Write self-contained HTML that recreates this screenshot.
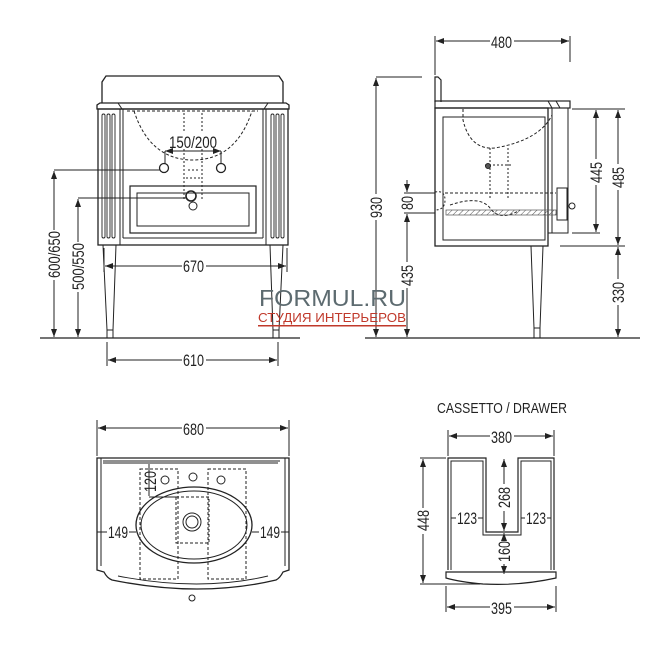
<!DOCTYPE html>
<html><head><meta charset="utf-8"><style>
html,body{margin:0;padding:0;background:#fff;}
svg{display:block}
text{font-family:"Liberation Sans",sans-serif;fill:#222;font-size:17px;}
</style></head><body>
<svg width="670" height="661" viewBox="0 0 670 661" xmlns="http://www.w3.org/2000/svg">
<defs>
<marker id="a" markerWidth="8" markerHeight="6" refX="8" refY="3" orient="auto-start-reverse" markerUnits="userSpaceOnUse"><path d="M0,0 L8,3 L0,6 z" fill="#222"/></marker>
<pattern id="h" width="4" height="4" patternUnits="userSpaceOnUse" patternTransform="rotate(45)"><line x1="0" y1="0" x2="0" y2="4" stroke="#555" stroke-width="1"/></pattern>
</defs>
<g stroke="#222" fill="none" stroke-width="1">
<path d="M102,103 V82 L106,76 H279 L283,82 V103" stroke-width="1.3"/>
<path d="M97,109 V105 L100,103 H286 L289,105 V109 Z" stroke-width="1.3"/>
<line x1="118" y1="103" x2="122" y2="109"/><line x1="268" y1="103" x2="264" y2="109"/>
<rect x="98" y="109" width="190" height="136" stroke-width="1.3"/>
<line x1="120" y1="109" x2="120" y2="245"/><line x1="123" y1="109" x2="123" y2="238"/>
<line x1="266" y1="109" x2="266" y2="245"/><line x1="263" y1="109" x2="263" y2="238"/>
<line x1="123" y1="238" x2="263" y2="238"/>
<g stroke-width="0.9">
<rect x="102" y="114" width="3" height="124" rx="1.5"/><rect x="107" y="114" width="3" height="124" rx="1.5"/><rect x="112" y="114" width="3" height="124" rx="1.5"/>
<rect x="271" y="114" width="3" height="124" rx="1.5"/><rect x="276" y="114" width="3" height="124" rx="1.5"/><rect x="281" y="114" width="3" height="124" rx="1.5"/>
</g>
<rect x="130" y="186" width="126" height="47" stroke-width="1.2"/>
<rect x="137" y="193" width="112" height="33"/>
<path d="M127,111 H258" stroke-dasharray="3,2"/>
<path d="M134,111 Q150,160 193,160 Q236,160 252,111" stroke-dasharray="3,2"/>
<path d="M184,113 V200 M202,113 V200 M188,170 H198 M186,178 H200" stroke-dasharray="2,2"/>
<circle cx="191" cy="196" r="5" stroke-width="1.6"/><circle cx="193" cy="206" r="4"/>
<circle cx="164" cy="168" r="4.5" stroke-width="1.3"/><circle cx="221" cy="168" r="4.5" stroke-width="1.3"/>
<line x1="165" y1="151" x2="221" y2="151" marker-start="url(#a)" marker-end="url(#a)"/>
<line x1="165" y1="151" x2="165" y2="164"/><line x1="221" y1="151" x2="221" y2="164"/>
<path d="M103,245 L107,330 V338 M116,245 L113,330 V338 M107,330 H113"/>
<path d="M270,245 L273,330 V338 M283,245 L279,330 V338 M273,330 H279"/>
<line x1="40" y1="338" x2="300" y2="338" stroke-width="1.2"/>
<line x1="104" y1="248" x2="104" y2="272"/><line x1="287" y1="248" x2="287" y2="272"/>
<line x1="105" y1="266" x2="286" y2="266" marker-start="url(#a)" marker-end="url(#a)"/>
<line x1="107" y1="342" x2="107" y2="366"/><line x1="278" y1="342" x2="278" y2="366"/>
<line x1="108" y1="360" x2="277" y2="360" marker-start="url(#a)" marker-end="url(#a)"/>
<line x1="54" y1="170" x2="160" y2="170"/>
<line x1="54" y1="171" x2="54" y2="337" marker-start="url(#a)" marker-end="url(#a)"/>
<line x1="78" y1="198" x2="187" y2="198"/>
<line x1="78" y1="199" x2="78" y2="337" marker-start="url(#a)" marker-end="url(#a)"/>

<line x1="435" y1="36" x2="435" y2="75"/><line x1="570" y1="36" x2="570" y2="62"/>
<line x1="436" y1="41" x2="569" y2="41" marker-start="url(#a)" marker-end="url(#a)"/>
<path d="M435,102 V77 H438 L441,80 V102" stroke-width="1.2"/>
<rect x="435" y="101" width="135" height="7" stroke-width="1.2"/>
<line x1="548" y1="101" x2="552" y2="108"/><line x1="556" y1="101" x2="560" y2="108"/>
<rect x="435" y="108" width="113" height="138" stroke-width="1.3"/>
<rect x="443" y="117" width="102" height="123"/>
<rect x="548" y="108" width="20" height="125"/>
<line x1="552" y1="108" x2="552" y2="233"/>
<rect x="557" y="188" width="10" height="32"/>
<circle cx="572" cy="206" r="3"/>
<path d="M463,109 V120 Q470,150 495,148 Q540,140 552,115 V109" stroke-dasharray="3,2"/>
<path d="M490,148 V200 M508,148 V200 M485,165 H512" stroke-dasharray="2,2"/>
<circle cx="488" cy="166" r="2.5" fill="#555"/>
<path d="M445,193 H556 M450,205 Q480,195 490,208 Q500,222 520,210" stroke-dasharray="3,2"/>
<rect x="446" y="210" width="110" height="5" fill="url(#h)" stroke="#555" stroke-width="0.7"/>
<path d="M435,192 Q445,190 445,200 Q445,210 435,210" stroke-dasharray="2,2"/>
<path d="M531,246 L534,328 V338 M543,246 L540,328 V338 M534,328 H540"/>
<line x1="365" y1="338" x2="640" y2="338" stroke-width="1.2"/>
<line x1="376" y1="77" x2="422" y2="77"/>
<line x1="376" y1="78" x2="376" y2="337" marker-start="url(#a)" marker-end="url(#a)"/>
<line x1="404" y1="193" x2="435" y2="193"/><line x1="404" y1="213" x2="435" y2="213"/>
<line x1="407" y1="180" x2="407" y2="192" marker-end="url(#a)"/>
<line x1="407" y1="214" x2="407" y2="337" marker-start="url(#a)" marker-end="url(#a)"/>
<line x1="572" y1="109" x2="625" y2="109"/><line x1="572" y1="233" x2="600" y2="233"/>
<line x1="560" y1="246" x2="625" y2="246"/>
<line x1="596" y1="110" x2="596" y2="232" marker-start="url(#a)" marker-end="url(#a)"/>
<line x1="618" y1="110" x2="618" y2="245" marker-start="url(#a)" marker-end="url(#a)"/>
<line x1="618" y1="247" x2="618" y2="337" marker-start="url(#a)" marker-end="url(#a)"/>

<line x1="97" y1="420" x2="97" y2="456"/><line x1="289" y1="420" x2="289" y2="456"/>
<line x1="98" y1="428" x2="288" y2="428" marker-start="url(#a)" marker-end="url(#a)"/>
<path d="M97,458 H289 V570 L283,572 Q280,578 276,580 Q200,598 112,580 Q107,578 104,572 L97,570 Z" stroke-width="1.3"/>
<path d="M101,458 V566 M285,458 V566 M103,461 H280 M103,463 H278"/>
<path d="M118,576 Q200,592 268,576" stroke-width="0.9"/>
<circle cx="192" cy="598" r="3"/>
<ellipse cx="194" cy="525" rx="58" ry="38" stroke-width="1.3"/>
<ellipse cx="194" cy="525" rx="53" ry="34" stroke-width="1"/>
<circle cx="192" cy="522" r="9"/><circle cx="192" cy="522" r="6"/>
<circle cx="165" cy="480" r="4"/><circle cx="193" cy="477" r="4"/><circle cx="221" cy="480" r="4"/>
<rect x="140" y="469" width="38" height="110" stroke-dasharray="3,2"/>
<rect x="208" y="469" width="38" height="110" stroke-dasharray="3,2"/>
<rect x="176" y="497" width="33" height="46" stroke-dasharray="3,2"/>
<line x1="149" y1="463" x2="176" y2="463"/><line x1="149" y1="497" x2="176" y2="497"/>
<line x1="149" y1="464" x2="149" y2="496"/>
<line x1="97" y1="532" x2="107" y2="532"/><line x1="129" y1="532" x2="136" y2="532"/>
<line x1="252" y1="532" x2="259" y2="532"/><line x1="281" y1="532" x2="289" y2="532"/>

<line x1="448" y1="430" x2="448" y2="456"/><line x1="554" y1="430" x2="554" y2="456"/>
<line x1="449" y1="436" x2="553" y2="436" marker-start="url(#a)" marker-end="url(#a)"/>
<path d="M448,570 V458 H486 V532 H518 V458 H554 V570" stroke-width="1.2"/>
<path d="M451,570 V461 H483 V535 H521 V461 H551 V570" stroke-width="1"/>
<path d="M446,572 L556,572 L556,578 Q520,586 483,584 Q460,582 446,578 Z" stroke-width="1.2"/>
<line x1="420" y1="458" x2="446" y2="458"/><line x1="420" y1="584" x2="480" y2="584"/>
<line x1="423" y1="459" x2="423" y2="583" marker-start="url(#a)" marker-end="url(#a)"/>
<line x1="504" y1="459" x2="504" y2="484" marker-start="url(#a)"/>
<line x1="504" y1="511" x2="504" y2="531" marker-end="url(#a)"/>
<line x1="504" y1="533" x2="504" y2="538" marker-start="url(#a)"/>
<line x1="504" y1="564" x2="504" y2="574" marker-end="url(#a)"/>
<line x1="451" y1="518" x2="456" y2="518"/><line x1="478" y1="518" x2="483" y2="518"/>
<line x1="521" y1="518" x2="525" y2="518"/><line x1="547" y1="518" x2="551" y2="518"/>
<line x1="446" y1="586" x2="446" y2="612"/><line x1="556" y1="586" x2="556" y2="612"/>
<line x1="447" y1="607" x2="555" y2="607" marker-start="url(#a)" marker-end="url(#a)"/>
</g>
<g stroke="none">
<rect x="169" y="132" width="48" height="16" fill="#fff"/>
<text x="169" y="148" textLength="48" lengthAdjust="spacingAndGlyphs">150/200</text>
<rect x="182" y="256" width="24" height="16" fill="#fff"/>
<text x="183" y="272" textLength="21" lengthAdjust="spacingAndGlyphs">670</text>
<rect x="182" y="350" width="24" height="16" fill="#fff"/>
<text x="183" y="366" textLength="21" lengthAdjust="spacingAndGlyphs">610</text>
<rect x="46" y="230" width="16" height="50" fill="#fff"/>
<text transform="translate(60,278) rotate(-90)" textLength="47" lengthAdjust="spacingAndGlyphs">600/650</text>
<rect x="70" y="242" width="16" height="50" fill="#fff"/>
<text transform="translate(84,290) rotate(-90)" textLength="47" lengthAdjust="spacingAndGlyphs">500/550</text>
<rect x="490" y="32" width="24" height="16" fill="#fff"/>
<text x="491" y="48" textLength="21" lengthAdjust="spacingAndGlyphs">480</text>
<rect x="368" y="194" width="16" height="26" fill="#fff"/>
<text transform="translate(382,218) rotate(-90)" textLength="21" lengthAdjust="spacingAndGlyphs">930</text>
<text transform="translate(413,210) rotate(-90)" textLength="14" lengthAdjust="spacingAndGlyphs">80</text>
<rect x="399" y="262" width="16" height="26" fill="#fff"/>
<text transform="translate(413,286) rotate(-90)" textLength="21" lengthAdjust="spacingAndGlyphs">435</text>
<rect x="588" y="159" width="16" height="26" fill="#fff"/>
<text transform="translate(602,183) rotate(-90)" textLength="21" lengthAdjust="spacingAndGlyphs">445</text>
<rect x="610" y="164" width="16" height="26" fill="#fff"/>
<text transform="translate(624,188) rotate(-90)" textLength="21" lengthAdjust="spacingAndGlyphs">485</text>
<rect x="610" y="279" width="16" height="26" fill="#fff"/>
<text transform="translate(624,303) rotate(-90)" textLength="21" lengthAdjust="spacingAndGlyphs">330</text>
<text x="259" y="306" textLength="147" lengthAdjust="spacingAndGlyphs" style="font-size:23px;fill:#5d6b70">FORMUL.RU</text>
<text x="258" y="322" style="font-size:12.5px;fill:#c0392b" textLength="148" lengthAdjust="spacingAndGlyphs">СТУДИЯ ИНТЕРЬЕРОВ</text>
<rect x="258" y="325" width="148" height="1.5" fill="#c0392b"/>
<rect x="182" y="419" width="24" height="16" fill="#fff"/>
<text x="183" y="435" textLength="21" lengthAdjust="spacingAndGlyphs">680</text>
<text transform="translate(156,492) rotate(-90)" textLength="21" lengthAdjust="spacingAndGlyphs">120</text>
<text x="108" y="538" textLength="20" lengthAdjust="spacingAndGlyphs">149</text>
<text x="260" y="538" textLength="20" lengthAdjust="spacingAndGlyphs">149</text>
<text x="437" y="413" style="font-size:15px" textLength="130" lengthAdjust="spacingAndGlyphs">CASSETTO / DRAWER</text>
<rect x="490" y="428" width="24" height="16" fill="#fff"/>
<text x="491" y="443" textLength="21" lengthAdjust="spacingAndGlyphs">380</text>
<rect x="415" y="508" width="16" height="26" fill="#fff"/>
<text transform="translate(429,531) rotate(-90)" textLength="21" lengthAdjust="spacingAndGlyphs">448</text>
<text transform="translate(510,508) rotate(-90)" textLength="21" lengthAdjust="spacingAndGlyphs">268</text>
<text transform="translate(510,562) rotate(-90)" textLength="21" lengthAdjust="spacingAndGlyphs">160</text>
<text x="457" y="524" textLength="20" lengthAdjust="spacingAndGlyphs">123</text>
<text x="526" y="524" textLength="20" lengthAdjust="spacingAndGlyphs">123</text>
<rect x="490" y="599" width="24" height="16" fill="#fff"/>
<text x="491" y="614" textLength="21" lengthAdjust="spacingAndGlyphs">395</text>
</g>
</svg>
</body></html>
